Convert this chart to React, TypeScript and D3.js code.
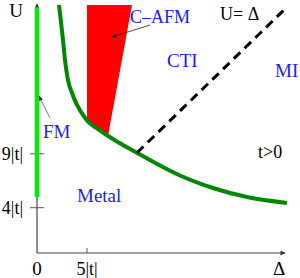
import React from 'react';
import * as d3 from 'd3';

// phase boundary (Δ, U), in units of |t|
const boundaryDelta = [2.2, 2.6, 2.8, 3.1, 3.5, 4.0, 4.6, 5.0, 6.0, 6.8, 8.0, 9.3, 10.8, 14.3, 17.6, 21.0, 25.0];
const boundaryU = [22.8, 19.55, 17.7, 15.84, 14.64, 13.53, 12.6, 12.09, 11.35, 10.84, 10.14, 9.45, 8.68, 6.99, 5.83, 4.99, 4.44];

// C-AFM wedge corners
const afmDelta = [5.0, 9.5, 7.1, 6.0, 5.0];
const afmU = [22.8, 22.8, 10.66, 11.35, 12.09];

// U = Δ line ends
const lineDelta = [10.0, 24.8];
const lineU = [9.1, 22.43];

// FM segment on Δ = 0
const fmU = [5.0, 22.6];

const yTicks = [4, 9];
const yTickLabels = ['4|t|', '9|t|'];
const xTicks = [5];
const xTickLabels = ['5|t|'];

const W = 300;
const H = 278;
const SERIF = 'Liberation Serif';

const Label = (props: any) => (
  <text fontFamily={SERIF} style={{ fontFamily: `'${SERIF}', serif` }} {...props} />
);

export default function App() {
  const x = d3.scaleLinear().domain([0, 24.8]).range([37, 285]);
  const y = d3.scaleLinear().domain([-0.2, 22.8]).range([253, 5]);

  const curve = d3.line<number>()
    .x((_, i) => x(boundaryDelta[i]))
    .y((_, i) => y(boundaryU[i]))
    .curve(d3.curveMonotoneX);

  const wedge = d3.line<number>()
    .x((_, i) => x(afmDelta[i]))
    .y((_, i) => y(afmU[i]))
    .curve(d3.curveLinearClosed);

  const blue = '#1a1aff';
  const x0 = x(0);
  const yBase = y(-0.2);

  return (
    <svg width={W} height={H} style={{ position: 'absolute', left: 0, top: 0, background: '#fff' }}>
      <defs>
        <marker id="ah" viewBox="0 0 10 10" refX="9" refY="5" markerWidth="6" markerHeight="5"
          orient="auto" markerUnits="userSpaceOnUse">
          <path d="M0,1 L10,5 L0,9 z" fill="#222" />
        </marker>
        <marker id="axh" viewBox="0 0 10 10" refX="9" refY="5" markerWidth="8" markerHeight="5"
          orient="auto" markerUnits="userSpaceOnUse">
          <path d="M0,0 L10,5 L0,10 z" fill="#333" />
        </marker>
      </defs>

      {/* red C-AFM wedge */}
      <path d={wedge(afmDelta) || ''} fill="#ff0000" />

      {/* axes */}
      <line x1={x0} y1={yBase} x2={x0} y2={4} stroke="#444" strokeWidth={1.2} markerEnd="url(#axh)" />
      <line x1={x0} y1={yBase} x2={x(24.8)} y2={yBase} stroke="#444" strokeWidth={1.2} markerEnd="url(#axh)" />

      {yTicks.map((t, i) => (
        <g key={t}>
          <line x1={x0 - 7} x2={x0 + 7} y1={y(t)} y2={y(t)} stroke="#555" strokeWidth={1} />
          <Label x={23} y={y(t) + 6} textAnchor="end" fontSize={18}>{yTickLabels[i]}</Label>
        </g>
      ))}
      {xTicks.map((t, i) => (
        <g key={t}>
          <line x1={x(t)} x2={x(t)} y1={yBase - 5} y2={yBase} stroke="#555" strokeWidth={1} />
          <Label x={x(t)} y={275} textAnchor="middle" fontSize={18}>{xTickLabels[i]}</Label>
        </g>
      ))}
      <Label x={x0} y={275} textAnchor="middle" fontSize={19}>0</Label>

      {/* FM segment */}
      <line x1={x0} x2={x0} y1={y(fmU[0])} y2={y(fmU[1])} stroke="#00ee00" strokeWidth={4.5} />

      {/* boundary curve */}
      <path d={curve(boundaryDelta) || ''} fill="none" stroke="#008800" strokeWidth={4} />

      {/* U = Δ */}
      <line x1={x(lineDelta[0])} y1={y(lineU[0])} x2={x(lineDelta[1])} y2={y(lineU[1])}
        stroke="#000" strokeWidth={3} strokeDasharray="9,6" />

      {/* pointer arrows */}
      <line x1={150} y1={25} x2={112} y2={37} stroke="#222" strokeWidth={0.8} markerEnd="url(#ah)" />
      <line x1={50} y1={118} x2={39} y2={96} stroke="#555" strokeWidth={0.8} markerEnd="url(#ah)" />

      {/* labels */}
      <Label x={16} y={17} textAnchor="middle" fontSize={19}>U</Label>
      <Label x={279} y={275} textAnchor="middle" fontSize={19}>Δ</Label>
      <Label x={130} y={23} fill={blue} fontSize={18}>C–AFM</Label>
      <Label x={220} y={20} fontSize={18}>U= Δ</Label>
      <Label x={167} y={67} fill={blue} fontSize={19}>CTI</Label>
      <Label x={275} y={77} fill={blue} fontSize={19}>MI</Label>
      <Label x={43} y={138} fill={blue} fontSize={19}>FM</Label>
      <Label x={77} y={202} fill={blue} fontSize={19}>Metal</Label>
      <Label x={258} y={158} fontSize={18}>t&gt;0</Label>
    </svg>
  );
}
